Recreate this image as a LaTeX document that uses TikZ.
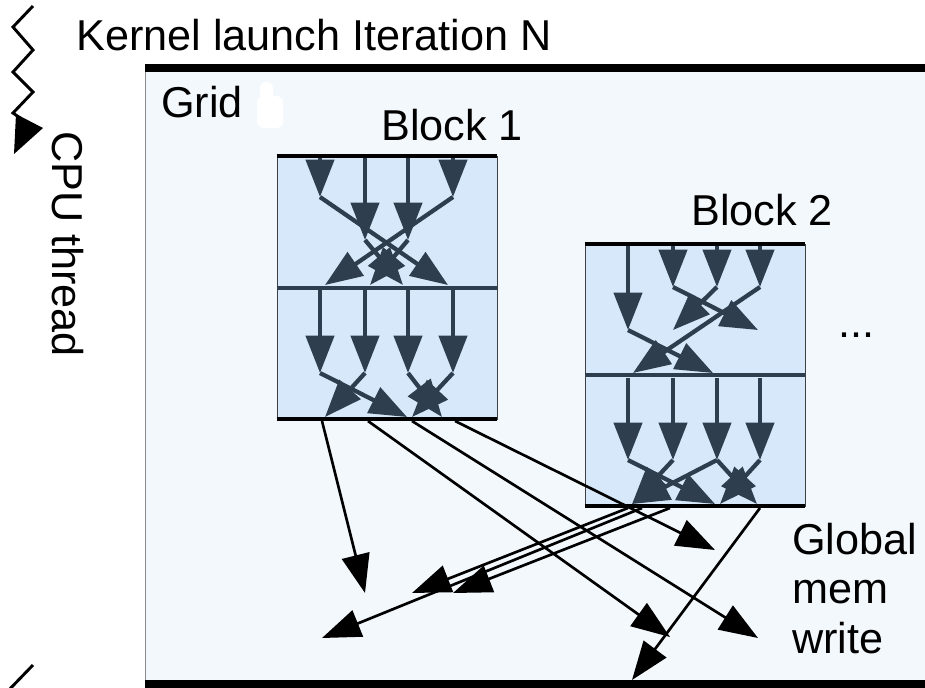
\documentclass[tikz,border=0pt]{standalone}
\usepackage{fontspec}
\setmainfont{Liberation Sans}
\usetikzlibrary{arrows.meta}
\definecolor{gridbg}{HTML}{F3F8FC}
\definecolor{blockbg}{HTML}{D6E8FA}
\definecolor{slate}{HTML}{2E3E4F}
\begin{document}
\begin{tikzpicture}[x=0.75pt,y=-0.75pt,
  lbl/.style={font=\fontsize{32.4}{37}\selectfont, inner sep=0pt, text=black},
  darr/.style={draw=slate, line width=3.2pt, -{Triangle[length=28pt,width=21pt]}},
  barr/.style={draw=black, line width=2pt, -{Triangle[length=29pt,width=21pt]}},
  blockbox/.style={draw=black!75, line width=0.7pt, fill=blockbg, inner sep=0pt,
    minimum width=165pt, minimum height=197pt},
  edgeline/.style={draw=black, line width=3pt},
  midline/.style={draw=slate, line width=3pt}
]
\useasboundingbox (0,0) rectangle (925,687);

% CPU thread: zig-zag timeline on the left
\draw[black, line width=2.2pt, line join=miter]
  (33,6) -- (13,27) -- (33,50) -- (13,72) -- (33,92) -- (13,113) -- (20,118);
\fill[black] (16,114) -- (43,128) -- (14,154) -- cycle;
\draw[black, line width=2.2pt] (33,665) -- (5,694);
\node[lbl, rotate=-90, anchor=base west] (cpu) at (52,131) {CPU thread};
\node[lbl, anchor=base west] (kl) at (76,50) {Kernel launch Iteration N};

% Grid container
\fill[gridbg] (145,67) rectangle (940,684);
\draw[black!45, line width=0.7pt] (145,67) -- (145,684);
\draw[black, line width=6pt] (145,67.5) -- (940,67.5);
\draw[black, line width=6pt] (145,684) -- (940,684);
\node[lbl, anchor=base west] (gridlbl) at (161,117) {Grid};
\fill[white, rounded corners=5pt] (257,96) rectangle (283,128);
\fill[white, rounded corners=4pt] (260,82) rectangle (273,104);

% Blocks
\node[blockbox, minimum height=197.25pt] (b1) at (387,287.5) {};
\node[blockbox, minimum height=196.5pt] (b2) at (695,375) {};
\foreach \b in {b1,b2}{
  \draw[edgeline] (\b.north west) -- (\b.north east);
  \draw[edgeline] (\b.south west) -- (\b.south east);
  \draw[midline] (\b.west) -- (\b.east);
}
\node[lbl, anchor=base west] (b1lbl) at (381,140) {Block 1};
\node[lbl, anchor=base west] (b2lbl) at (691,225) {Block 2};
\node[lbl, anchor=base west] (dots) at (838,337) {...};

% Block 1 threads
\foreach \n/\x in {1/320,2/365,3/408,4/453}{
  \coordinate (p1t\n) at (\x,158);
  \coordinate (p1m\n) at (\x,289);
}
\coordinate (p1a1) at (320,197);
\coordinate (p1a2) at (365,240);
\coordinate (p1a3) at (408,240);
\coordinate (p1a4) at (453,197);
\foreach \n in {1,...,4}{\draw[darr] (p1t\n) -- (p1a\n);}
\coordinate (q1a) at (448,285);
\coordinate (q1b) at (325,285);
\coordinate (q1c) at (403,285);
\coordinate (q1d) at (370,285);
\draw[darr] (p1a1) -- (q1a);
\draw[darr] (p1a4) -- (q1b);
\draw[darr] (p1a2) -- (q1c);
\draw[darr] (p1a3) -- (q1d);
\foreach \n/\x in {1/320,2/365,3/408,4/453}{
  \coordinate (p1b\n) at (\x,373);
  \draw[darr] (p1m\n) -- (p1b\n);
}
\coordinate (r1a) at (407,417);
\coordinate (r1b) at (325,417);
\coordinate (r1c) at (442,417);
\coordinate (r1d) at (412,417);
\draw[darr] (p1b1) -- (r1a);
\draw[darr] (p1b2) -- (r1b);
\draw[darr] (p1b3) -- (r1c);
\draw[darr] (p1b4) -- (r1d);

% Block 2 threads
\foreach \n/\x in {1/628,2/673,3/717,4/760}{
  \coordinate (p2t\n) at (\x,246);
  \coordinate (p2m\n) at (\x,378);
}
\coordinate (p2a1) at (628,330);
\coordinate (p2a2) at (673,287);
\coordinate (p2a3) at (717,287);
\coordinate (p2a4) at (760,287);
\foreach \n in {1,...,4}{\draw[darr] (p2t\n) -- (p2a\n);}
\coordinate (q2a) at (758,330);
\coordinate (q2b) at (673,330);
\coordinate (q2c) at (633,373);
\coordinate (q2d) at (713,373);
\draw[darr] (p2a2) -- (q2a);
\draw[darr] (p2a3) -- (q2b);
\draw[darr] (p2a4) -- (q2c);
\draw[darr] (p2a1) -- (q2d);
\foreach \n/\x in {1/628,2/673,3/717,4/760}{
  \coordinate (p2b\n) at (\x,460);
  \draw[darr] (p2m\n) -- (p2b\n);
}
\coordinate (r2a) at (715,504);
\coordinate (r2b) at (632,504);
\coordinate (r2c) at (757,504);
\coordinate (r2d) at (720,504);
\draw[darr] (p2b1) -- (r2a);
\draw[darr] (p2b2) -- (r2b);
\draw[darr] (p2b3) -- (r2b);
\draw[darr] (p2b3) -- (r2c);
\draw[darr] (p2b4) -- (r2d);

% Global memory writes
\coordinate (s1a) at (322,421);
\coordinate (s1b) at (368,421);
\coordinate (s1c) at (412,421);
\coordinate (s1d) at (455,421);
\coordinate (s2a) at (628,508);
\coordinate (s2b) at (642,508);
\coordinate (s2c) at (670,508);
\coordinate (s2d) at (760,508);
\coordinate (w1) at (365,593);
\coordinate (w2) at (670,637);
\coordinate (w3) at (758,638);
\coordinate (w4) at (715,550);
\coordinate (w5) at (412,593);
\coordinate (w6) at (322,638);
\coordinate (w7) at (453,593);
\coordinate (w8) at (632,680);
\draw[barr] (s1a) -- (w1);
\draw[barr] (s1b) -- (w2);
\draw[barr] (s1c) -- (w3);
\draw[barr] (s1d) -- (w4);
\draw[barr] (s2a) -- (w5);
\draw[barr] (s2b) -- (w6);
\draw[barr] (s2c) -- (w7);
\draw[barr] (s2d) -- (w8);

% last line's baseline anchors the three-line label
\node[lbl, anchor=base west, align=left] (gmw) at (792,653) {Global\\mem\\write};
\end{tikzpicture}
\end{document}
